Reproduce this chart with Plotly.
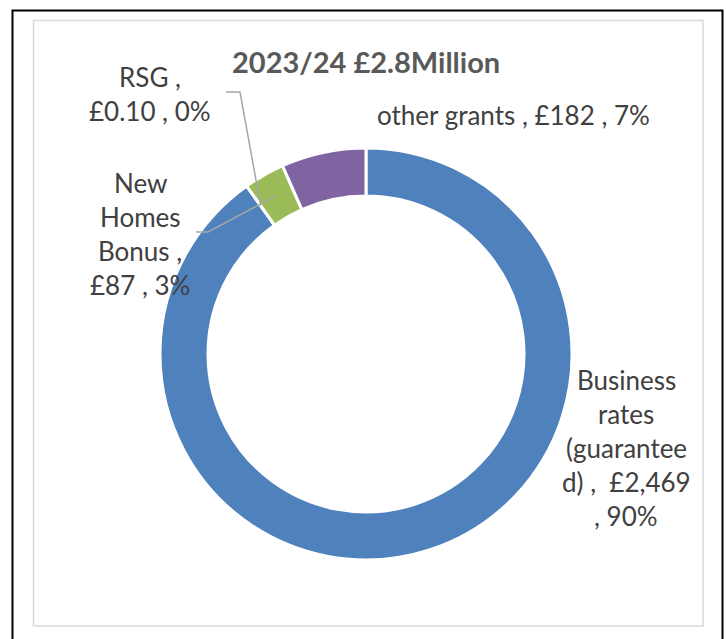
import math
import plotly.graph_objects as go

# Funding sources for 2023/24 (£000s)
categories = ["Business rates (guaranteed)", "RSG", "New Homes Bonus", "other grants"]
values = [2469, 0.10, 87, 182]
percent_labels = ["90%", "0%", "3%", "7%"]
value_labels = ["£2,469", "£0.10", "£87", "£182"]
colors = ["#4F81BD", "#C0504D", "#9BBB59", "#8064A2"]
title_text = "2023/24 £2.8Million"

W, H = 726, 639
CX, CY, R_OUT, HOLE = 366, 354, 206, 0.767


def px(x):
    return x / W


def py(y):
    return 1 - y / H


fig = go.Figure()
fig.add_trace(go.Pie(
    labels=categories,
    values=values,
    hole=HOLE,
    sort=False,
    direction="clockwise",
    rotation=0,
    marker=dict(colors=colors, line=dict(color="white", width=3)),
    textinfo="none",
    hoverinfo="label+value+percent",
    showlegend=False,
    domain=dict(x=[px(CX - R_OUT), px(CX + R_OUT)],
                y=[py(CY + R_OUT), py(CY - R_OUT)]),
))

FONT = "Lato"
TEXT_COLOR = "#404040"
SIZE = 26
LINE_GAP = 34

annotations = []


def add_block(lines, cx, cy, size=SIZE, color=TEXT_COLOR, bold=False):
    n = len(lines)
    for i, line in enumerate(lines):
        y = cy + (i - (n - 1) / 2) * LINE_GAP
        txt = f"<b>{line}</b>" if bold else line
        annotations.append(dict(
            x=px(cx), y=py(y), xref="paper", yref="paper",
            text=txt, showarrow=False, xanchor="center", yanchor="middle",
            font=dict(family=FONT, size=size, color=color),
        ))


add_block([title_text], 366, 61, size=29, color="#595959", bold=True)
add_block(["RSG ,", f"{value_labels[1]} , {percent_labels[1]}"], 150, 94)
add_block([f"{categories[3]} , {value_labels[3]} , {percent_labels[3]}"], 513, 115)
add_block(["New", "Homes", "Bonus ,", f"{value_labels[2]} , {percent_labels[2]}"], 140, 234)
add_block(["Business", "rates", "(guarantee", f"d) ,  {value_labels[0]}", f", {percent_labels[0]}"], 626, 448)

# Leader lines from the small slices' mid-ring points to their labels
total = sum(values)
mid_r = R_OUT * (1 + HOLE) / 2


def slice_mid_point(idx):
    start = sum(values[:idx])
    mid = (start + values[idx] / 2) / total * 2 * math.pi
    return CX + mid_r * math.sin(mid), CY - mid_r * math.cos(mid)


shapes = []
rx, ry = slice_mid_point(1)
shapes.append(dict(type="path", xref="paper", yref="paper",
                   path=f"M {px(226)} {py(92)} L {px(240)} {py(92)} L {px(rx)} {py(ry)}",
                   line=dict(color="#A6A6A6", width=1.5)))
nx, ny = slice_mid_point(2)
shapes.append(dict(type="path", xref="paper", yref="paper",
                   path=f"M {px(196)} {py(232)} L {px(208)} {py(232)} L {px(nx)} {py(ny)}",
                   line=dict(color="#A6A6A6", width=1.5)))

# Chart area border and outer frame
shapes.append(dict(type="rect", xref="paper", yref="paper",
                   x0=px(33.5), x1=px(703), y0=py(626), y1=py(20.5),
                   line=dict(color="#D9D9D9", width=1.5)))
shapes.append(dict(type="rect", xref="paper", yref="paper",
                   x0=px(12.5), x1=px(722.5), y0=py(645), y1=py(10.5),
                   line=dict(color="#000000", width=2)))

fig.update_layout(
    width=W, height=H,
    margin=dict(l=0, r=0, t=0, b=0),
    paper_bgcolor="white", plot_bgcolor="white",
    annotations=annotations,
    shapes=shapes,
)

fig.write_html("out.html")
